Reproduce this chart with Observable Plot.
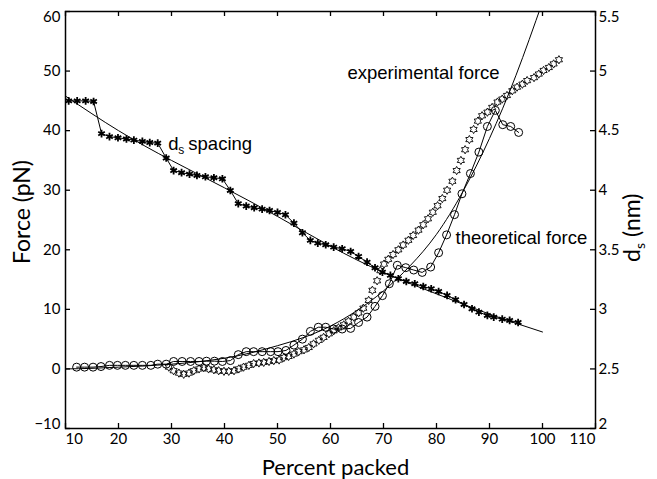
<!DOCTYPE html>
<html><head><meta charset="utf-8">
<script src="https://cdn.jsdelivr.net/npm/d3@7"></script>
<script src="https://cdn.jsdelivr.net/npm/@observablehq/plot@0.6"></script>
<style>body{margin:0;background:#fff;} svg{display:block}</style>
</head><body><div id="chart"></div>
<script>
// ---- tick labels ----
const xTicks = [10, 20, 30, 40, 50, 60, 70, 80, 90, 100, 110];
const forceTicks = [-10, 0, 10, 20, 30, 40, 50, 60];
const dsTicks = [2, 2.5, 3, 3.5, 4, 4.5, 5, 5.5];

// ---- d_s spacing (nm), asterisks ----
const dsX = [10.6,12.2,13.8,15.3,16.8,18.3,19.9,21.5,22.9,24.5,25.9,27.4,29.0,30.4,31.9,33.4,34.8,36.4,38.0,39.6,41.1,42.6,44.1,45.6,47.1,48.5,50.0,51.5,53.1,54.7,56.2,57.6,59.1,60.6,62.2,63.8,65.3,66.9,68.4,69.8,71.3,72.8,74.3,75.9,77.5,79.0,80.4,82.0,83.6,85.2,86.7,88.0,89.6,90.8,92.4,93.8,95.4];
const dsVal = [4.75,4.75,4.75,4.745,4.475,4.45,4.44,4.43,4.42,4.41,4.40,4.395,4.27,4.165,4.147,4.135,4.124,4.113,4.105,4.096,3.998,3.887,3.867,3.853,3.841,3.830,3.814,3.794,3.724,3.643,3.579,3.556,3.542,3.522,3.509,3.486,3.444,3.396,3.349,3.312,3.285,3.257,3.234,3.215,3.192,3.173,3.150,3.117,3.081,3.041,3.005,2.977,2.949,2.935,2.918,2.907,2.890];

// ---- d_s smooth fit ----
const dsFitX = [10, 20, 30, 40, 50, 60, 70, 80, 90, 100];
const dsFitVal = [4.79, 4.50, 4.25, 4.02, 3.78, 3.53, 3.31, 3.13, 2.96, 2.81];

// ---- experimental force (pN), hexagrams ----
const expX = [29.5,30.4,31.4,32.3,33.3,34.2,35.2,36.1,37.0,38.0,38.9,39.9,40.8,41.8,42.7,43.6,44.6,45.5,46.5,47.4,48.4,49.3,50.3,51.2,52.1,53.1,54.0,55.0,55.9,56.8,57.8,58.7,59.7,60.6,61.5,62.5,63.4,64.4,65.3,66.2,67.2,67.9,68.8,69.4,70.1,70.9,71.8,72.8,73.7,74.7,75.6,76.6,77.5,78.4,79.3,80.2,81.1,82.0,83.0,83.8,84.6,85.4,86.2,87.0,87.8,88.6,89.6,90.5,91.5,92.4,93.3,94.3,95.2,96.2,97.1,98.4,99.3,100.2,101.2,102.1,103.1];
const expForce = [0.3,-0.3,-0.7,-0.9,-0.7,-0.3,0.0,0.2,0.0,-0.15,-0.3,-0.4,-0.4,-0.3,0.0,0.3,0.6,0.9,1.0,1.1,1.25,1.4,1.5,1.9,2.1,2.5,2.9,3.2,3.6,4.2,4.8,5.3,5.9,6.4,6.9,7.4,8.0,8.7,9.4,10.2,11.5,13.2,14.8,16.5,17.6,18.4,19.2,20.0,20.8,21.6,22.4,23.3,24.2,25.2,26.3,27.4,28.6,30.0,31.5,33.3,35.0,36.8,38.5,40.2,41.6,42.5,43.1,43.9,44.8,45.3,45.9,46.7,47.3,47.8,48.4,48.9,49.5,50.1,50.6,51.2,51.9];

// ---- theoretical force (pN), circles ----
const theoX = [12.1,13.6,15.2,16.7,18.3,19.8,21.3,22.9,24.5,26.1,27.4,29.0,30.4,32.0,33.6,35.2,36.6,38.1,39.6,41.1,42.6,44.1,45.5,47.1,48.7,50.1,51.6,53.1,54.7,56.2,57.7,59.1,60.6,62.2,63.8,65.3,66.9,68.4,69.8,71.1,72.6,74.2,75.7,77.3,78.9,80.4,81.9,83.4,84.8,86.4,88.0,89.6,91.1,92.5,94.0,95.5];
const theoForce = [0.3,0.3,0.3,0.4,0.6,0.6,0.6,0.6,0.6,0.6,0.8,0.8,1.25,1.25,1.25,1.25,1.3,1.3,1.25,1.4,2.4,2.9,2.9,2.9,2.9,2.9,3.1,4.0,5.0,6.3,7.0,7.0,6.7,6.7,6.8,7.8,8.7,10.5,12.3,14.3,17.4,17.0,16.6,16.2,17.1,19.5,22.5,25.9,29.4,32.8,36.4,40.7,43.4,41.0,40.7,39.7];

// ---- theoretical smooth curve ----
const theoFitX = [10,15,20,25,30,35,40,45,50,55,60,65,70,75,80,85,90,95,100];
const theoFitForce = [0,0.1,0.3,0.5,0.8,1.2,1.8,2.7,3.9,5.3,7.2,9.8,13.1,17.3,22.6,29.8,38.7,49.3,61.6];

// right axis (2–5.5 nm) shares the frame with the left axis (−10–60 pN)
const toForce = ds => (ds - 2) * 20 - 10;

const dsRows = dsX.map((x, i) => ({x, y: toForce(dsVal[i])}));
const dsFitRows = dsFitX.map((x, i) => ({x, y: toForce(dsFitVal[i])}));
const expRows = expX.map((x, i) => ({x, y: expForce[i]}));
const theoRows = theoX.map((x, i) => ({x, y: theoForce[i]}));
const theoFitRows = theoFitX.map((x, i) => ({x, y: theoFitForce[i]}));

const hexagram = {
  draw(context, size) {
    const R = Math.sqrt(size / Math.PI) * 1.15;
    const r = R / Math.sqrt(3);
    for (let i = 0; i < 12; i++) {
      const a = Math.PI / 2 + i * Math.PI / 6;
      const rad = i % 2 === 0 ? R : r;
      const px = rad * Math.cos(a), py = -rad * Math.sin(a);
      if (i === 0) context.moveTo(px, py); else context.lineTo(px, py);
    }
    context.closePath();
  }
};

const W = 657, H = 479, mL = 65, mR = 62, mT = 11, mB = 51;
const fw = W - mL - mR, fh = H - mT - mB;
const tickLen = 5;
const annFont = "Liberation Sans, Arial, sans-serif";
const fmt = d => d < 0 ? "\u2212" + Math.abs(d) : String(d);

const xFirst = xTicks[0], xLast = xTicks[xTicks.length - 1];
const fFirst = forceTicks[0], fLast = forceTicks[forceTicks.length - 1];
const dFirst = dsTicks[0], dLast = dsTicks[dsTicks.length - 1];

const chart = Plot.plot({
  width: W, height: H,
  marginLeft: mL, marginRight: mR, marginTop: mT, marginBottom: mB,
  style: {fontFamily: "Lato, sans-serif", fontSize: "15px", color: "black", background: "white"},
  x: {domain: [xFirst, xLast], axis: null},
  y: {domain: [fFirst, fLast], axis: null},
  marks: [
    // theoretical smooth curve
    Plot.line(theoFitRows, {x: "x", y: "y", curve: "natural", stroke: "black", strokeWidth: 1, clip: true}),
    // d_s fit
    Plot.line(dsFitRows, {x: "x", y: "y", curve: "natural", stroke: "black", strokeWidth: 1}),
    // d_s data
    Plot.line(dsRows, {x: "x", y: "y", stroke: "black", strokeWidth: 1}),
    Plot.dot(dsRows, {x: "x", y: "y", symbol: "asterisk", r: 3.6, stroke: "black", strokeWidth: 1.8}),
    // theoretical force
    Plot.line(theoRows, {x: "x", y: "y", stroke: "black", strokeWidth: 1}),
    Plot.dot(theoRows, {x: "x", y: "y", r: 4, stroke: "black", fill: "none", strokeWidth: 1}),
    // experimental force
    Plot.dot(expRows, {x: "x", y: "y", symbol: hexagram, r: 3.6, stroke: "black", fill: "none", strokeWidth: 0.9}),
    // frame and inward ticks
    Plot.frame({stroke: "black", strokeWidth: 1.5}),
    Plot.tickY(forceTicks, {y: d => d, insetRight: fw - tickLen, stroke: "black", strokeWidth: 1.3}),
    Plot.tickY(dsTicks, {y: d => toForce(d), insetLeft: fw - tickLen, stroke: "black", strokeWidth: 1.3}),
    Plot.tickX(xTicks, {x: d => d, insetTop: fh - tickLen, stroke: "black", strokeWidth: 1.3}),
    Plot.tickX(xTicks, {x: d => d, insetBottom: fh - tickLen, stroke: "black", strokeWidth: 1.3}),
    // x tick labels (end labels kept inside the frame width)
    Plot.text(xTicks.filter(d => d !== xFirst && d !== xLast), {x: d => d, text: fmt, frameAnchor: "bottom", lineAnchor: "top", dy: 5}),
    Plot.text([xFirst], {x: d => d, text: fmt, frameAnchor: "bottom", lineAnchor: "top", textAnchor: "start", dy: 5}),
    Plot.text([xLast], {x: d => d, text: fmt, frameAnchor: "bottom", lineAnchor: "top", textAnchor: "end", dy: 5}),
    // left tick labels
    Plot.text(forceTicks.filter(d => d !== fFirst && d !== fLast), {y: d => d, text: fmt, frameAnchor: "left", textAnchor: "end", dx: -5}),
    Plot.text([fFirst], {y: d => d, text: fmt, frameAnchor: "left", textAnchor: "end", lineAnchor: "bottom", dx: -5}),
    Plot.text([fLast], {y: d => d, text: fmt, frameAnchor: "left", textAnchor: "end", lineAnchor: "top", dx: -5}),
    // right tick labels
    Plot.text(dsTicks.filter(d => d !== dFirst && d !== dLast), {y: d => toForce(d), text: fmt, frameAnchor: "right", textAnchor: "start", dx: 3}),
    Plot.text([dFirst], {y: d => toForce(d), text: fmt, frameAnchor: "right", textAnchor: "start", lineAnchor: "bottom", dx: 3}),
    Plot.text([dLast], {y: d => toForce(d), text: fmt, frameAnchor: "right", textAnchor: "start", lineAnchor: "top", dx: 3}),
    // axis titles
    Plot.text(["Percent packed"], {frameAnchor: "bottom", dy: 39, dx: 5, lineAnchor: "middle", fontSize: 22}),
    Plot.text(["Force (pN)"], {frameAnchor: "left", dx: -43, dy: -8, rotate: -90, textAnchor: "middle", lineAnchor: "middle", fontSize: 23}),
    Plot.text(["d"], {frameAnchor: "right", dx: 37, dy: 42, rotate: -90, textAnchor: "start", fontSize: 23}),
    Plot.text(["s"], {frameAnchor: "right", dx: 45, dy: 29, rotate: -90, textAnchor: "start", fontSize: 14}),
    Plot.text(["(nm)"], {frameAnchor: "right", dx: 37, dy: 17, rotate: -90, textAnchor: "start", fontSize: 23}),
    // annotations
    Plot.text(["d"], {x: 29.4, y: 37.8, textAnchor: "start", fontSize: 18.5, fontFamily: annFont}),
    Plot.text(["s"], {x: 29.4, y: 37.8, dx: 10, dy: 6, textAnchor: "start", fontSize: 12, fontFamily: annFont}),
    Plot.text(["spacing"], {x: 29.4, y: 37.8, dx: 20, textAnchor: "start", fontSize: 18.5, fontFamily: annFont}),
    Plot.text(["experimental force"], {x: 63.2, y: 49.6, textAnchor: "start", fontSize: 18.5, fontFamily: annFont}),
    Plot.text(["theoretical force"], {x: 83.6, y: 21.9, textAnchor: "start", fontSize: 18.5, fontFamily: annFont})
  ]
});
document.getElementById("chart").appendChild(chart);
</script>
</body></html>
